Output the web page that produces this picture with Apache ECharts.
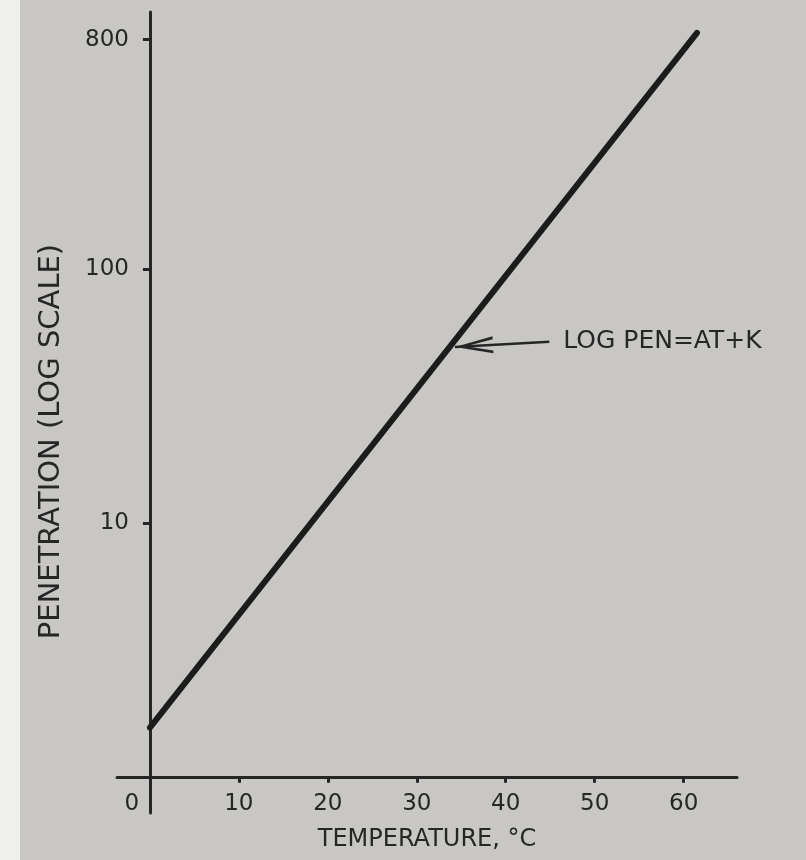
<!DOCTYPE html>
<html><head><meta charset="utf-8">
<script src="https://cdn.jsdelivr.net/npm/echarts@6/dist/echarts.min.js"></script>
<style>
html,body{margin:0;padding:0;}
body{width:806px;height:860px;background:linear-gradient(to right,#efefed 0,#efefed 20px,#c8c7c4 20px);}
#chart{width:806px;height:860px;}
</style></head><body><div id="chart"></div>
<script>
// Data
const temperatures = [0, 61.5];          // °C
const penetration = [1.56, 850];         // log scale
const xTickValues = [0, 10, 20, 30, 40, 50, 60];
const yTickValues = [10, 100, 800];
const xRange = [-3.7, 66];
const yRange = [0.72, 1027];
const xAxisTitle = 'TEMPERATURE, °C';
const yAxisTitle = 'PENETRATION (LOG SCALE)';
const annotationText = 'LOG PEN=AT+K';
const arrowFrom = [44.9, 51.6];
const arrowTo = [34.3, 49.3];

const ink = '#262626';
const font = 'DejaVu Sans';
const gridLeft = 117, gridRight = 69, gridTop = 12, gridBottom = 47;

const chart = echarts.init(document.getElementById('chart'), null, {renderer: 'canvas'});

const option = {
  backgroundColor: 'transparent',
  animation: false,
  grid: {left: gridLeft, right: gridRight, top: gridTop, bottom: gridBottom, containLabel: false, outerBoundsMode: 'none'},
  xAxis: {
    type: 'value', min: xRange[0], max: xRange[1], position: 'bottom', offset: 0,
    axisLine: {show: true, onZero: false, lineStyle: {color: ink, width: 3}},
    axisTick: {show: true, customValues: xTickValues, length: 6, lineStyle: {color: ink, width: 3}},
    axisLabel: {
      show: true, customValues: xTickValues, margin: 16, color: ink, fontFamily: font, fontSize: 23,
      formatter: v => v === 0 ? '{zero|0}' : String(v),
      rich: {zero: {padding: [0, 36, 0, 0], color: ink, fontFamily: font, fontSize: 23}}
    },
    splitLine: {show: false},
    name: xAxisTitle, nameLocation: 'middle', nameGap: 51,
    nameTextStyle: {color: ink, fontFamily: font, fontSize: 24}
  },
  yAxis: {
    type: 'log', logBase: 10, min: yRange[0], max: yRange[1], position: 'left', offset: 0,
    axisLine: {show: true, onZero: false, lineStyle: {color: ink, width: 3}},
    axisTick: {show: true, customValues: yTickValues, length: 7, lineStyle: {color: ink, width: 3}},
    axisLabel: {show: true, customValues: yTickValues, margin: 21, color: ink, fontFamily: font, fontSize: 23},
    splitLine: {show: false},
    minorTick: {show: false},
    name: yAxisTitle, nameLocation: 'middle', nameGap: 84, nameRotate: 90,
    nameTextStyle: {color: ink, fontFamily: font, fontSize: 29, padding: [0, 58, 0, 0]}
  },
  series: [{
    type: 'line',
    data: temperatures.map((t, i) => [t, penetration[i]]),
    symbol: 'none',
    lineStyle: {color: '#1c1c1c', width: 6, cap: 'round'},
    markLine: {
      silent: true,
      animation: false,
      symbol: ['none', 'path://M0,0 L9,38 L6,38 L0,11 L-6,38 L-9,38 Z'],
      symbolSize: [17, 38],
      symbolOffset: [0, [0, 19]],
      itemStyle: {color: ink},
      lineStyle: {color: ink, width: 2.5, type: 'solid', curveness: 0.08},
      label: {
        show: true, position: 'start', distance: 14, formatter: annotationText,
        color: ink, fontFamily: font, fontSize: 25
      },
      data: [[{coord: arrowFrom}, {coord: arrowTo}]]
    }
  }]
};

chart.setOption(option);

// place the axes so they cross at (0, 1), as in the figure
const p = chart.convertToPixel({gridIndex: 0}, [0, 1]);
const chartH = chart.getHeight();
const xOff = -((chartH - gridBottom) - p[1]);
const yOff = -(p[0] - gridLeft);
chart.setOption({xAxis: {offset: xOff}, yAxis: {offset: yOff}});
</script>
</body></html>
